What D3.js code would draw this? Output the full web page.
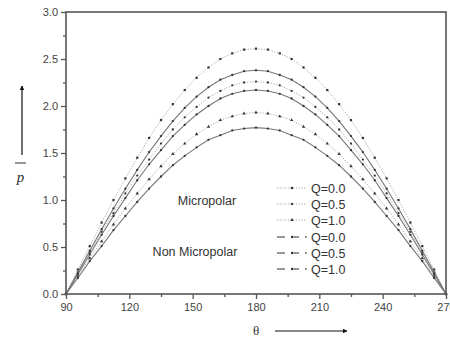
<!DOCTYPE html>
<html><head><meta charset="utf-8">
<script src="https://cdn.jsdelivr.net/npm/d3@7"></script>
<style>body{margin:0;background:#fff;}svg{display:block;}</style>
</head><body>
<script>
// Data
const theta = d3.range(33).map(i => 90 + i * 5.625);
const microQ0 = [0,0.26,0.51,0.76,1.00,1.23,1.45,1.66,1.85,2.02,2.17,2.30,2.41,2.50,2.56,2.60,2.61,2.60,2.56,2.50,2.41,2.30,2.17,2.02,1.85,1.66,1.45,1.23,1.00,0.76,0.51,0.26,0];
const microQ05 = [0,0.22,0.44,0.66,0.86,1.07,1.26,1.43,1.60,1.75,1.88,1.99,2.09,2.16,2.22,2.25,2.26,2.25,2.22,2.16,2.09,1.99,1.88,1.75,1.60,1.43,1.26,1.07,0.86,0.66,0.44,0.22,0];
const microQ10 = [0,0.19,0.38,0.56,0.74,0.91,1.07,1.22,1.36,1.49,1.60,1.70,1.78,1.85,1.89,1.92,1.93,1.92,1.89,1.85,1.78,1.70,1.60,1.49,1.36,1.22,1.07,0.91,0.74,0.56,0.38,0.19,0];
const nonQ0 = [0,0.23,0.46,0.69,0.91,1.12,1.32,1.51,1.68,1.84,1.98,2.10,2.20,2.28,2.33,2.37,2.38,2.37,2.33,2.28,2.20,2.10,1.98,1.84,1.68,1.51,1.32,1.12,0.91,0.69,0.46,0.23,0];
const nonQ05 = [0,0.21,0.42,0.63,0.83,1.02,1.21,1.38,1.53,1.68,1.80,1.91,2.00,2.08,2.13,2.16,2.17,2.16,2.13,2.08,2.00,1.91,1.80,1.68,1.53,1.38,1.21,1.02,0.83,0.63,0.42,0.21,0];
const nonQ10 = [0,0.17,0.35,0.51,0.68,0.83,0.98,1.12,1.25,1.37,1.47,1.56,1.64,1.69,1.74,1.76,1.77,1.76,1.74,1.69,1.64,1.56,1.47,1.37,1.25,1.12,0.98,0.83,0.68,0.51,0.35,0.17,0];
const xTicks = [90,120,150,180,210,240,270];
const yTicks = [0,0.5,1.0,1.5,2.0,2.5,3.0];
const legendLabels = ["Q=0.0","Q=0.5","Q=1.0","Q=0.0","Q=0.5","Q=1.0"];

const series = [
  {v: microQ0, dotted: true, marker: "square"},
  {v: microQ05, dotted: true, marker: "circle"},
  {v: microQ10, dotted: true, marker: "triangle"},
  {v: nonQ0, dotted: false, marker: "circle"},
  {v: nonQ05, dotted: false, marker: "circle"},
  {v: nonQ10, dotted: false, marker: "circle"}
];

const W = 450, H = 339;
const m = {l: 66, r: 4, t: 12, b: 45};
const svg = d3.select("body").append("svg").attr("width", W).attr("height", H)
  .style("font-family", "'Liberation Sans', Arial, sans-serif");

const x = d3.scaleLinear().domain([90, 270]).range([m.l, W - m.r]);
const y = d3.scaleLinear().domain([0, 3]).range([H - m.b, m.t]);

const axisColor = "#555";
const line = d3.line().x((d, i) => x(theta[i])).y(d => y(d));

function drawMarker(g, type, cx, cy) {
  if (type === "square") g.append("rect").attr("x", cx - 1.1).attr("y", cy - 1.1).attr("width", 2.2).attr("height", 2.2).attr("fill", "#333");
  else if (type === "triangle") g.append("path").attr("d", d3.symbol(d3.symbolTriangle, 5)()).attr("transform", `translate(${cx},${cy})`).attr("fill", "#333");
  else g.append("circle").attr("cx", cx).attr("cy", cy).attr("r", 1.15).attr("fill", "#333");
}

// Series
series.forEach(s => {
  svg.append("path").datum(s.v).attr("d", line).attr("fill", "none")
    .attr("stroke", s.dotted ? "#aaa" : "#777").attr("stroke-width", s.dotted ? 1 : 1.1)
    .attr("stroke-dasharray", s.dotted ? "1.2,1.5" : null);
  const g = svg.append("g");
  s.v.forEach((d, i) => drawMarker(g, s.marker, x(theta[i]), y(d)));
});

// Axes
const xAxis = d3.axisBottom(x).tickValues(xTicks).tickSize(5).tickPadding(4);
const xMinor = d3.axisBottom(x).tickValues(d3.range(105, 270, 30)).tickSize(3).tickFormat("");
const yAxis = d3.axisLeft(y).tickValues(yTicks).tickSize(5).tickPadding(3).tickFormat(d3.format(".1f"));
const yMinor = d3.axisLeft(y).tickValues(d3.range(0.25, 3, 0.5)).tickSize(3).tickFormat("");

function styleAxis(g) {
  g.select(".domain").remove();
  g.selectAll("line").attr("stroke", axisColor).attr("stroke-width", 1.3);
  g.selectAll("text").attr("fill", "#444").style("font-size", "11px");
}
svg.append("g").attr("transform", `translate(0,${H - m.b})`).call(xAxis).call(styleAxis);
svg.append("g").attr("transform", `translate(0,${H - m.b})`).call(xMinor).call(styleAxis);
svg.append("g").attr("transform", `translate(${m.l},0)`).call(yAxis).call(styleAxis);
svg.append("g").attr("transform", `translate(${m.l},0)`).call(yMinor).call(styleAxis);

// Frame
svg.append("rect").attr("x", m.l).attr("y", m.t).attr("width", W - m.r - m.l).attr("height", H - m.b - m.t)
  .attr("fill", "none").attr("stroke", axisColor).attr("stroke-width", 1.6);

// Text labels
svg.append("text").attr("x", 207).attr("y", 205).attr("text-anchor", "middle").style("font-size", "12.5px").attr("fill", "#333").text("Micropolar");
svg.append("text").attr("x", 195).attr("y", 256).attr("text-anchor", "middle").style("font-size", "12.5px").attr("fill", "#333").text("Non Micropolar");

// Legend
const legY = [188, 204, 220, 237, 253, 269];
series.forEach((s, i) => {
  const g = svg.append("g");
  g.append("line").attr("x1", 277).attr("x2", 307).attr("y1", legY[i]).attr("y2", legY[i])
    .attr("stroke", s.dotted ? "#aaa" : "#777").attr("stroke-width", s.dotted ? 1 : 1.3)
    .attr("stroke-dasharray", s.dotted ? "1.2,1.5" : "8,6");
  drawMarker(g, s.marker, 292, legY[i]);
  g.append("text").attr("x", 311).attr("y", legY[i] + 4.5).style("font-size", "12.5px").attr("fill", "#333").text(legendLabels[i]);
});

// Y axis label with arrow
svg.append("defs").append("marker").attr("id", "ah").attr("viewBox", "0 0 10 10").attr("refX", 9).attr("refY", 5)
  .attr("markerWidth", 4).attr("markerHeight", 4).attr("orient", "auto")
  .append("path").attr("d", "M0,0L10,5L0,10z").attr("fill", "#111");
svg.append("line").attr("x1", 22).attr("x2", 22).attr("y1", 155).attr("y2", 86).attr("stroke", "#111").attr("stroke-width", 1.2).attr("marker-end", "url(#ah)");
svg.append("line").attr("x1", 15).attr("x2", 26).attr("y1", 163).attr("y2", 163).attr("stroke", "#333").attr("stroke-width", 1);
svg.append("text").attr("x", 20.5).attr("y", 182).attr("text-anchor", "middle").style("font-family", "'Liberation Serif', serif").style("font-style", "italic").style("font-size", "15px").attr("fill", "#333").text("p");

// X axis label with arrow
svg.append("text").attr("x", 256).attr("y", 335).attr("text-anchor", "middle").style("font-family", "'Liberation Serif', serif").style("font-size", "13px").attr("fill", "#333").text("θ");
svg.append("line").attr("x1", 275).attr("x2", 347).attr("y1", 331).attr("y2", 331).attr("stroke", "#111").attr("stroke-width", 1.2).attr("marker-end", "url(#ah)");
</script>
</body></html>
